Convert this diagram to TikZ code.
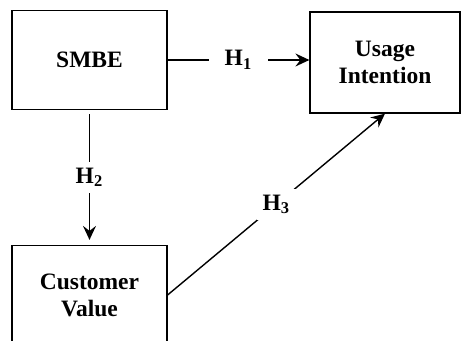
\documentclass[tikz,border=0pt]{standalone}
\usepackage{fontspec}
\setmainfont{Liberation Serif}
\usepackage{tikz}
\usetikzlibrary{positioning,
				arrows.meta,
				calc}

\begin{document}
\begin{tikzpicture}[x=0.5pt,y=-0.5pt,
		box/.style={draw,line width=0.6pt,align=center,minimum width=77.5pt,minimum height=49.5pt,
			font=\fontsize{11.75}{13.5}\selectfont\bfseries},
		hyp/.style={fill=white,inner sep=3pt,font=\fontsize{11.75}{13.5}\selectfont\bfseries},
		link/.style={line width=0.7pt,-{Stealth[length=7pt,width=6.5pt,inset=2.5pt]}}]
		\useasboundingbox (0,0) rectangle (462,341);
		\clip (0,0) rectangle (462,341);
		\node[box] (smbe) at (89.5,60) {SMBE};
		\node[box,minimum width=75pt,minimum height=50.5pt] (usage) at (385,62.5) {Usage\\Intention};
		\node[box] (value) at (89.5,295) {Customer\\Value};
		\draw[link] (smbe.east) -- node[hyp,inner xsep=8pt] {H\textsubscript{1}} (smbe.east -| usage.west);
		\draw[link,shorten <=2pt,shorten >=2.5pt] (smbe.south) -- node[hyp] {H\textsubscript{2}} (value.north);
		\draw[link] (value.east) -- node[hyp] {H\textsubscript{3}} (usage.south);
	\end{tikzpicture}
\end{document}
